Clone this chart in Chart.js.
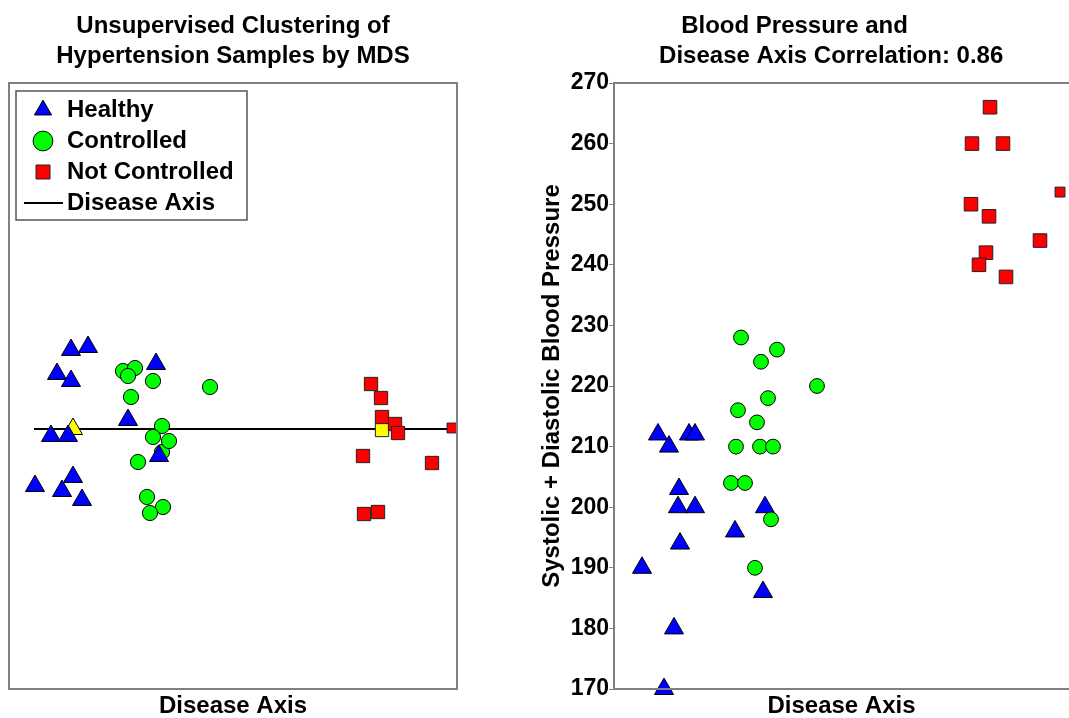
<!DOCTYPE html>
<html lang="en">
<head>
    <meta charset="UTF-8">
    <title>Hypertension MDS</title>
    <script src="https://cdn.jsdelivr.net/npm/chart.js"></script>
    <style>
        body { margin: 0; background: #fff; }
        canvas { position: absolute; top: 0; }
    </style>
</head>
<body>
    <canvas id="mds" width="474" height="718" style="left:0"></canvas>
    <canvas id="bp" width="549" height="718" style="left:520px"></canvas>

    <script>
        // left panel: MDS coordinates (arbitrary units)
        const healthyMdsX = [62, 79, 48, 62, 147, 119, 42, 59, 150, 64, 26, 53, 73];
        const healthyMdsY = [339, 342, 315, 308, 325, 269, 253, 253, 233, 212, 203, 198, 189];
        const controlledMdsX = [153, 114, 126, 119, 144, 201, 122, 153, 144, 160, 129, 138, 154, 141];
        const controlledMdsY = [237, 318, 321, 313, 308, 302, 292, 263, 252, 248, 227, 192, 182, 176];
        const notCtrlMdsX = [362, 372, 373, 386, 389, 443, 354, 423, 369, 355];
        const notCtrlMdsY = [305, 291, 272, 265, 256, 261, 233, 226, 177, 175];
        const highlightHealthy = [64, 260];
        const highlightNotCtrl = [373, 259];
        const diseaseAxisX = [25, 450];
        const diseaseAxisY = [260, 260];

        // right panel: disease axis score vs blood pressure
        const healthyBpX = [44, 55, 75, 81, 65, 64, 81, 151, 121, 66, 28, 149, 60, 50];
        const healthyBp = [212, 210, 212, 212, 203, 200, 200, 200, 196, 194, 190, 186, 180, 170];
        const controlledBpX = [127, 163, 147, 203, 154, 124, 143, 122, 146, 159, 117, 131, 157, 141];
        const controlledBp = [228, 226, 224, 220, 218, 216, 214, 210, 210, 210, 204, 204, 198, 190];
        const notCtrlBpX = [376, 358, 389, 446, 357, 375, 426, 372, 365, 392];
        const notCtrlBp = [266, 260, 260, 252, 250, 248, 244, 242, 240, 238];

        const legendLabels = ['Healthy', 'Controlled', 'Not Controlled', 'Disease Axis'];
        const leftTitle = ['Unsupervised Clustering of', 'Hypertension Samples by MDS'];
        const rightTitle = ['Blood Pressure and', '           Disease Axis Correlation: 0.86'];
        const xAxisTitle = 'Disease Axis';
        const yAxisTitle = 'Systolic + Diastolic Blood Pressure';

        const zip = (xs, ys) => xs.map((x, i) => ({ x: x, y: ys[i] }));

        Chart.defaults.font.family = '"Liberation Sans", Arial, sans-serif';
        Chart.defaults.font.weight = 'bold';
        Chart.defaults.color = '#000';
        Chart.defaults.animation = false;

        // small black line used as the legend marker of the disease axis
        const lineMarker = document.createElement('canvas');
        lineMarker.width = 39;
        lineMarker.height = 2;
        lineMarker.getContext('2d').fillRect(0, 0, 39, 2);

        const titleOpts = text => ({
            display: true,
            text: text,
            font: { size: 24, weight: 'bold', lineHeight: 1.25 },
            padding: { top: 11, bottom: 12 }
        });
        const xTitle = {
            display: true,
            text: xAxisTitle,
            font: { size: 24, weight: 'bold', lineHeight: 1 },
            padding: { top: 5, bottom: 0 }
        };

        // frame around the plot, and box around the legend
        const framePlugin = {
            id: 'frame',
            beforeDraw(chart, args, opts) {
                if (opts.legendAt) {
                    const lg = chart.legend;
                    lg.left = opts.legendAt[0];
                    lg.top = opts.legendAt[1];
                    lg.right = chart.chartArea.right;
                    lg.bottom = chart.chartArea.bottom;
                }
            },
            afterDraw(chart, args, opts) {
                const ctx = chart.ctx;
                const a = chart.chartArea;
                ctx.save();
                ctx.strokeStyle = '#808080';
                ctx.lineWidth = 2;
                ctx.beginPath();
                if (opts.sides === 3) {
                    ctx.moveTo(a.right + 2, a.top);
                    ctx.lineTo(a.left, a.top);
                    ctx.lineTo(a.left, a.bottom);
                    ctx.lineTo(a.right + 2, a.bottom);
                } else {
                    ctx.rect(a.left, a.top, a.right - a.left, a.bottom - a.top);
                }
                ctx.stroke();
                if (opts.legendBox) {
                    const b = opts.legendBox;
                    ctx.strokeStyle = '#555';
                    ctx.lineWidth = 1.5;
                    ctx.strokeRect(b[0], b[1], b[2], b[3]);
                }
                ctx.restore();
            }
        };

        new Chart(document.getElementById('mds'), {
            type: 'scatter',
            data: {
                datasets: [{
                    label: legendLabels[0],
                    data: zip(healthyMdsX, healthyMdsY),
                    pointStyle: 'triangle',
                    pointRadius: 11,
                    backgroundColor: '#0000ff',
                    borderColor: '#000',
                    borderWidth: 1,
                    clip: false,
                    order: 0
                }, {
                    label: legendLabels[1],
                    data: zip(controlledMdsX, controlledMdsY),
                    pointStyle: 'circle',
                    pointRadius: 7.6,
                    backgroundColor: '#00ff00',
                    borderColor: '#000',
                    borderWidth: 1,
                    clip: false,
                    order: 1
                }, {
                    label: legendLabels[2],
                    data: zip(notCtrlMdsX, notCtrlMdsY),
                    pointStyle: 'rect',
                    pointRadius: notCtrlMdsX.map((v, i) => i === 5 ? 7 : 9.4),
                    backgroundColor: '#ff0000',
                    borderColor: '#222',
                    borderWidth: 1,
                    clip: false,
                    order: 2
                }, {
                    label: '',
                    data: [{ x: highlightHealthy[0], y: highlightHealthy[1] }],
                    pointStyle: 'triangle',
                    pointRadius: 11,
                    backgroundColor: '#ffff00',
                    borderColor: '#000',
                    borderWidth: 1,
                    order: 3
                }, {
                    label: '',
                    data: [{ x: highlightNotCtrl[0], y: highlightNotCtrl[1] }],
                    pointStyle: 'rect',
                    pointRadius: 9.4,
                    backgroundColor: '#ffff00',
                    borderColor: '#222',
                    borderWidth: 1,
                    order: 3
                }, {
                    type: 'line',
                    label: legendLabels[3],
                    data: zip(diseaseAxisX, diseaseAxisY),
                    borderColor: '#000',
                    borderWidth: 2,
                    pointRadius: 0,
                    pointStyle: lineMarker,
                    order: 4
                }]
            },
            options: {
                responsive: false,
                layout: { autoPadding: false, padding: { left: 9, right: 17, top: 0, bottom: 0 } },
                scales: {
                    x: {
                        type: 'linear', min: 0, max: 448,
                        ticks: { display: false },
                        grid: { display: false, drawTicks: false },
                        border: { display: false },
                        title: xTitle
                    },
                    y: {
                        type: 'linear', min: 0, max: 606,
                        ticks: { display: false },
                        grid: { display: false, drawTicks: false },
                        border: { display: false }
                    }
                },
                plugins: {
                    title: titleOpts(leftTitle),
                    tooltip: { enabled: false },
                    legend: {
                        position: 'chartArea',
                        align: 'start',
                        labels: {
                            usePointStyle: true,
                            boxHeight: 14,
                            boxWidth: 24,
                            padding: 7,
                            font: { size: 24, weight: 'bold' },
                            filter: item => item.text !== ''
                        }
                    },
                    frame: { sides: 4, legendAt: [24, 91], legendBox: [16, 91, 231, 129] }
                }
            },
            plugins: [framePlugin]
        });

        new Chart(document.getElementById('bp'), {
            type: 'scatter',
            data: {
                datasets: [{
                    label: legendLabels[0],
                    data: zip(healthyBpX, healthyBp),
                    pointStyle: 'triangle',
                    pointRadius: 11,
                    backgroundColor: '#0000ff',
                    borderColor: '#000',
                    borderWidth: 1,
                    clip: false,
                    order: 1
                }, {
                    label: legendLabels[1],
                    data: zip(controlledBpX, controlledBp),
                    pointStyle: 'circle',
                    pointRadius: 7.4,
                    backgroundColor: '#00ff00',
                    borderColor: '#000',
                    borderWidth: 1,
                    clip: false,
                    order: 0
                }, {
                    label: legendLabels[2],
                    data: zip(notCtrlBpX, notCtrlBp),
                    pointStyle: 'rect',
                    pointRadius: notCtrlBpX.map((v, i) => i === 3 ? 7 : 9.6),
                    backgroundColor: '#ff0000',
                    borderColor: '#222',
                    borderWidth: 1,
                    clip: false,
                    order: 2
                }]
            },
            options: {
                responsive: false,
                layout: { autoPadding: false, padding: 0 },
                scales: {
                    x: {
                        type: 'linear', min: 0, max: 455,
                        ticks: { display: false },
                        grid: { display: false, drawTicks: false },
                        border: { display: false },
                        title: xTitle
                    },
                    y: {
                        type: 'linear', min: 170, max: 270,
                        ticks: { stepSize: 10, padding: 0, font: { size: 23, weight: 'bold' } },
                        grid: { drawOnChartArea: false, drawTicks: true, tickLength: 5, color: '#808080' },
                        border: { display: false },
                        title: {
                            display: true,
                            text: yAxisTitle,
                            font: { size: 24, weight: 'bold', lineHeight: 1 },
                            padding: { top: 20, bottom: 0 }
                        },
                        afterFit: scale => { scale.width = 94; }
                    }
                },
                plugins: {
                    title: titleOpts(rightTitle),
                    tooltip: { enabled: false },
                    legend: { display: false },
                    frame: { sides: 3 }
                }
            },
            plugins: [framePlugin]
        });
    </script>
</body>
</html>
